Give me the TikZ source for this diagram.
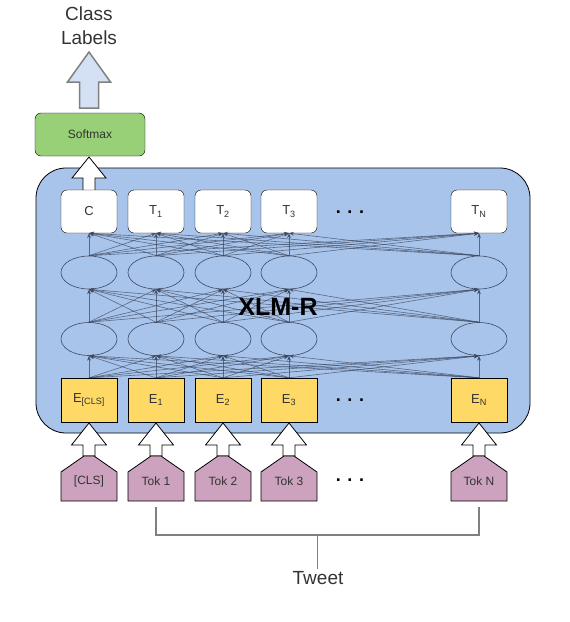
\documentclass[tikz,border=0pt]{standalone}
\usepackage{fontspec}
\setmainfont{Liberation Sans}
\usetikzlibrary{shapes.geometric,arrows.meta,calc}
\definecolor{cont}{HTML}{A9C4EB}
\definecolor{smx}{HTML}{97D077}
\definecolor{emb}{HTML}{FFD966}
\definecolor{tokc}{HTML}{CDA2BE}
\definecolor{bigarr}{HTML}{D4E1F5}
\definecolor{conn}{HTML}{3E4A62}
\definecolor{txt}{HTML}{333333}
\begin{document}
\begin{tikzpicture}[x=1pt,y=-1pt,
  tbox/.style={draw=black, fill=white, rounded corners=6pt, minimum width=56pt, minimum height=43pt, inner sep=0pt, font=\fontsize{13}{15}\selectfont, text=txt},
  ebox/.style={draw=black, fill=emb, minimum width=56pt, minimum height=44pt, inner sep=0pt, font=\fontsize{13}{15}\selectfont, text=txt},
  hid/.style={draw=conn, ellipse, minimum width=56pt, minimum height=33pt, inner sep=0pt, line width=0.6pt},
  link/.style={draw=conn, draw opacity=0.75, line width=0.6pt, -{Stealth[length=5pt,width=4pt]}},
  blockarr/.style={draw=black, fill=white, line width=0.8pt},
  tokshape/.style={draw=black, fill=tokc, line width=0.8pt},
  toklab/.style={font=\fontsize{12}{14}\selectfont, text=txt, inner sep=0pt},
  dotsty/.style={font=\fontsize{18}{18}\bfseries\selectfont, inner sep=0pt},
  brk/.style={draw=gray, line width=1.3pt}
]
\useasboundingbox (0,0) rectangle (570,622);

% title and output arrow
\node[font=\fontsize{19}{24}\selectfont, text=txt, align=center] (cls) at (89,26) {Class\\Labels};
\draw[draw=gray, fill=bigarr, line width=1.5pt] (89,52) -- (110.5,82) -- (98.5,82) -- (98.5,108) -- (79.5,108) -- (79.5,82) -- (67.5,82) -- cycle;
\node[draw=black, fill=smx, rounded corners=6pt, minimum width=110pt, minimum height=43pt, inner sep=0pt, font=\fontsize{12}{14}\selectfont, text=txt] (smx) at (90,134.5) {Softmax};

% container
\node[draw=black, fill=cont, rounded corners=30pt, minimum width=494pt, minimum height=265pt, line width=0.8pt] (xlmr) at (283,300.5) {};

% white arrow into Softmax
\draw[blockarr] (89,157) -- (106,178) -- (95,178) -- (95,191) -- (83,191) -- (83,178) -- (72,178) -- cycle;

% columns
\foreach \i/\x/\tl/\el in {0/89/C/E\textsubscript{[CLS]},1/156/T\textsubscript{1}/E\textsubscript{1},2/223/T\textsubscript{2}/E\textsubscript{2},3/289/T\textsubscript{3}/E\textsubscript{3},4/479/T\textsubscript{N}/E\textsubscript{N}}{
  \node[tbox] (t\i) at (\x,211.5) {\tl};
  \node[hid] (ha\i) at (\x,272.5) {};
  \node[hid] (hb\i) at (\x,339) {};
  \node[ebox] (e\i) at (\x,400) {\el};
}

% full connections
\foreach \i in {0,...,4}{
  \foreach \j in {0,...,4}{
    \draw[link] (e\i.north) -- (hb\j.south);
    \draw[link] (hb\i.north) -- (ha\j.south);
    \draw[link] (ha\i.north) -- (t\j.south);
  }
}

\node[font=\fontsize{25}{25}\bfseries\selectfont, inner sep=0pt] (xl) at (278,307) {XLM-R};
\node[dotsty] (dt) at (350,212) {. . .};
\node[dotsty] (de) at (350,400) {. . .};

% tokens
\foreach \i/\x/\lab in {0/89/[CLS],1/156/Tok 1,2/223/Tok 2,3/289/Tok 3,4/479/Tok N}{
  \draw[blockarr] (\x,423) -- (\x+17.5,445) -- (\x+6,445) -- (\x+6,456) -- (\x-6,456) -- (\x-6,445) -- (\x-17.5,445) -- cycle;
  \draw[tokshape] (\x-5,456) -- (\x+5,456) -- (\x+28,472) -- (\x+28,501) -- (\x-28,501) -- (\x-28,472) -- cycle;
  \node[toklab] (k\i) at (\x,481) {\lab};
}
\node[dotsty] (dk) at (350,480) {. . .};

% tweet bracket
\node[font=\fontsize{19}{22}\selectfont, text=txt, inner sep=2pt] (tw) at (318,578) {Tweet};
\coordinate (b1) at (156,507);
\coordinate (bn) at (479,507);
\coordinate (bm) at (317.5,535);
\draw[brk] (b1) |- (bn |- bm) -- (bn);
\draw[brk] (bm) -- (bm |- tw.north);
\end{tikzpicture}
\end{document}
